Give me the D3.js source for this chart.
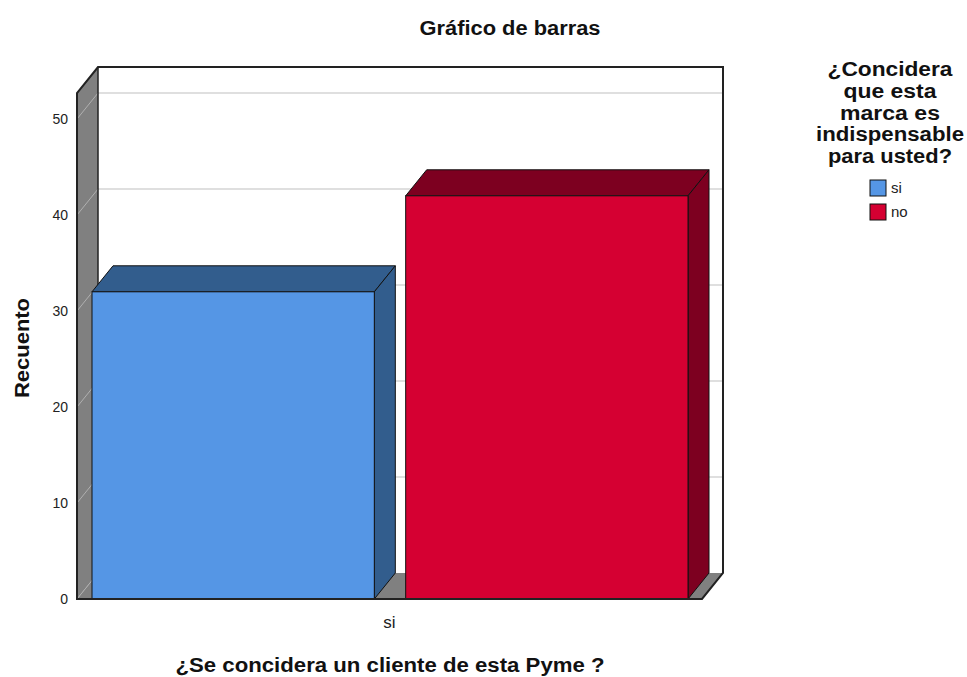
<!DOCTYPE html>
<html>
<head>
<meta charset="utf-8">
<script src="https://cdn.jsdelivr.net/npm/d3@7"></script>
<style>
  body { margin: 0; background: #fff; }
  text { font-family: "Liberation Sans", Arial, sans-serif; }
</style>
</head>
<body>
<script>
const W = 967, H = 677;
const categories = ['si'];
const series = ['si', 'no'];
const counts = [32, 42];            // si, no
const yTicks = [0, 10, 20, 30, 40, 50];
const colors = ['#5596e5', '#d50032'];
const darks = ['#325d8d', '#7d0020'];

const svg = d3.select('body').append('svg')
    .attr('width', W).attr('height', H);

// front plane and depth offset
const x0 = 77, x1 = 702, yBot = 599;
const dx = 21, dy = -26;

let y = d3.scaleLinear().domain([0, 50]).range([yBot, 119]);
const yTop = y(52.7);

let xCat = d3.scaleBand().domain(categories).range([x0, x1]).padding(0);
let xSub = d3.scaleBand().domain(series).range([15, xCat.bandwidth() - 14]).paddingInner(0.1);

// side wall
svg.append('path')
    .attr('d', `M${x0},${yBot}L${x0},${yTop}L${x0 + dx},${yTop + dy}L${x0 + dx},${yBot + dy}Z`)
    .attr('fill', '#808080');
// floor
svg.append('path')
    .attr('d', `M${x0},${yBot}L${x1},${yBot}L${x1 + dx},${yBot + dy}L${x0 + dx},${yBot + dy}Z`)
    .attr('fill', '#808080');
// back wall
svg.append('rect')
    .attr('x', x0 + dx).attr('y', yTop + dy)
    .attr('width', x1 - x0).attr('height', yBot - yTop)
    .attr('fill', '#fff');

// grid lines on back wall and side wall
svg.selectAll('.grid').data(yTicks.slice(1)).enter().append('line')
    .attr('x1', x0 + dx).attr('x2', x1 + dx)
    .attr('y1', d => y(d) + dy).attr('y2', d => y(d) + dy)
    .attr('stroke', '#d4d4d4').attr('stroke-width', 1.5);
svg.selectAll('.sgrid').data(yTicks).enter().append('line')
    .attr('x1', x0).attr('x2', x0 + dx)
    .attr('y1', d => y(d)).attr('y2', d => y(d) + dy)
    .attr('stroke', '#b0b0b0').attr('stroke-width', 1);

// frame outlines
const frame = svg.append('g').attr('fill', 'none').attr('stroke', '#222').attr('stroke-width', 2);
frame.append('path').attr('d', `M${x0},${yBot}L${x0},${yTop}L${x0 + dx},${yTop + dy}L${x1 + dx},${yTop + dy}L${x1 + dx},${yBot + dy}L${x1},${yBot}Z`);
frame.append('path').attr('d', `M${x0 + dx},${yTop + dy}L${x0 + dx},${yBot + dy}`).attr('stroke-width', 1.5);

// bars
const bars = svg.selectAll('.bar').data(counts).enter().append('g');
bars.each(function (d, i) {
    const g = d3.select(this);
    const bx = xCat('si') + xSub(series[i]);
    const bw = xSub.bandwidth();
    const by = y(d);
    g.append('path')
        .attr('d', `M${bx},${by}L${bx + dx},${by + dy}L${bx + bw + dx},${by + dy}L${bx + bw},${by}Z`)
        .attr('fill', darks[i]).attr('stroke', '#111').attr('stroke-width', 1);
    g.append('path')
        .attr('d', `M${bx + bw},${by}L${bx + bw + dx},${by + dy}L${bx + bw + dx},${yBot + dy}L${bx + bw},${yBot}Z`)
        .attr('fill', darks[i]).attr('stroke', '#111').attr('stroke-width', 1);
    g.append('rect')
        .attr('x', bx).attr('y', by).attr('width', bw).attr('height', yBot - by)
        .attr('fill', colors[i]).attr('stroke', '#111').attr('stroke-width', 1);
});

// bottom line in front
svg.append('line').attr('x1', x0).attr('x2', x1).attr('y1', yBot).attr('y2', yBot)
    .attr('stroke', '#222').attr('stroke-width', 2);

// y axis labels
svg.selectAll('.ylab').data(yTicks).enter().append('text')
    .attr('x', 68).attr('y', d => y(d)).attr('dy', '0.35em')
    .attr('text-anchor', 'end').attr('font-size', 14).attr('fill', '#222')
    .text(d => d);

// x axis label
svg.selectAll('.xlab').data(categories).enter().append('text')
    .attr('x', d => xCat(d) + xCat.bandwidth() / 2).attr('y', 628)
    .attr('text-anchor', 'middle').attr('font-size', 17).attr('fill', '#222')
    .text(d => d);

// titles
svg.append('text').attr('x', 510).attr('y', 35).attr('text-anchor', 'middle')
    .attr('font-size', 20).attr('font-weight', 'bold').attr('fill', '#111')
    .attr('textLength', 181).attr('lengthAdjust', 'spacingAndGlyphs')
    .text('Gráfico de barras');
svg.append('text').attr('transform', 'translate(29,348) rotate(-90)').attr('text-anchor', 'middle')
    .attr('font-size', 20).attr('font-weight', 'bold').attr('fill', '#111')
    .attr('textLength', 100).attr('lengthAdjust', 'spacingAndGlyphs')
    .text('Recuento');
svg.append('text').attr('x', 390).attr('y', 672).attr('text-anchor', 'middle')
    .attr('font-size', 20).attr('font-weight', 'bold').attr('fill', '#111')
    .attr('textLength', 429).attr('lengthAdjust', 'spacingAndGlyphs')
    .text('¿Se concidera un cliente de esta Pyme ?');

// legend
const legTitle = ['¿Concidera', 'que esta', 'marca es', 'indispensable', 'para usted?'];
const legW = [125, 93, 100, 148, 124];
svg.append('text').attr('text-anchor', 'middle').attr('font-size', 20)
    .attr('font-weight', 'bold').attr('fill', '#111')
    .selectAll('tspan').data(legTitle).enter().append('tspan')
    .attr('x', 890).attr('y', (d, i) => 76 + i * 21.8)
    .attr('textLength', (d, i) => legW[i]).attr('lengthAdjust', 'spacingAndGlyphs')
    .text(d => d);
const leg = svg.selectAll('.leg').data(series).enter().append('g')
    .attr('transform', (d, i) => `translate(870,${180 + i * 24})`);
leg.append('rect').attr('width', 16).attr('height', 16)
    .attr('fill', (d, i) => colors[i]).attr('stroke', '#111').attr('stroke-width', 1);
leg.append('text').attr('x', 21).attr('y', 8).attr('dy', '0.35em')
    .attr('font-size', 15).attr('fill', '#222').text(d => d);
</script>
</body>
</html>
